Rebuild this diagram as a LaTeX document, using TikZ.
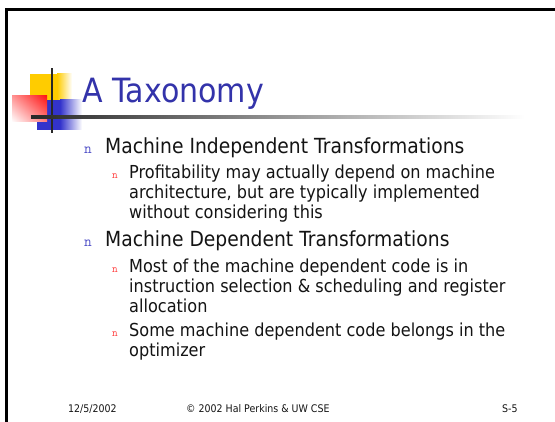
\documentclass[tikz,border=0pt]{standalone}
\usepackage{fontspec}
\usetikzlibrary{shadings}
\setmainfont[FakeStretch=0.9]{DejaVu Sans}
\definecolor{titleblue}{RGB}{51,51,170}
\definecolor{ink}{RGB}{20,20,20}
\definecolor{bulletblue}{RGB}{80,80,200}
\definecolor{bulletred}{RGB}{255,60,60}
\definecolor{logoyellow}{RGB}{255,204,0}
\definecolor{logoblue}{RGB}{51,51,204}
\definecolor{logored}{RGB}{255,20,20}
\definecolor{rule}{RGB}{40,40,40}
\begin{document}
\begin{tikzpicture}[x=1pt,y=-1pt,
  txt/.style={anchor=base west, inner sep=0pt, text=ink},
  lvlone/.style={txt, font=\fontsize{20.8}{24}\selectfont},
  lvltwo/.style={txt, font=\fontsize{17.9}{20}\selectfont},
  bulone/.style={anchor=base, inner sep=0pt, text=bulletblue, font=\ttfamily\fontsize{15}{15}\selectfont},
  bultwo/.style={anchor=base, inner sep=0pt, text=bulletred, font=\ttfamily\fontsize{11}{11}\selectfont},
  foot/.style={anchor=base west, inner sep=0pt, text=ink, font=\fontsize{10.5}{12}\selectfont}]
\useasboundingbox (0,0) rectangle (555,422);
\fill[white] (0,0) rectangle (555,422);

% slide frame
\fill[black] (5,8) rectangle (555,11);
\fill[black] (5,8) rectangle (7.5,422);

% corner logo
\fill[logoyellow] (30,74) rectangle (57,100);
\shade[left color=logoyellow, right color=white] (57,74) rectangle (72,100);
\fill[logoblue] (37,100) rectangle (60,130);
\shade[left color=logoblue, right color=white] (60,100) rectangle (82,130);
\shade[upper right=logored, upper left=logored!45!white,
       lower right=logored!55!white, lower left=white] (12,96) rectangle (47,122);
\fill[rule] (51,68) rectangle (53,133);
\shade[left color=rule, right color=white] (31,115.5) rectangle (525,118.5);

% title
\node[anchor=base west, inner sep=0pt, text=titleblue,
      font=\fontsize{33.4}{36}\selectfont] (title) at (82,103) {A Taxonomy};

% first group
\node[bulone] (b1) at (88,154) {n};
\node[lvlone] (h1) at (105,154) {Machine Independent Transformations};
\node[bultwo] (b11) at (115,179) {n};
\node[lvltwo] (t11a) at (129,179) {Profitability may actually depend on machine};
\node[lvltwo] (t11b) at (129,199) {architecture, but are typically implemented};
\node[lvltwo] (t11c) at (129,219) {without considering this};

% second group
\node[bulone] (b2) at (88,247) {n};
\node[lvlone] (h2) at (105,247) {Machine Dependent Transformations};
\node[bultwo] (b21) at (115,273) {n};
\node[lvltwo] (t21a) at (129,273) {Most of the machine dependent code is in};
\node[lvltwo] (t21b) at (129,293) {instruction selection \& scheduling and register};
\node[lvltwo] (t21c) at (129,313) {allocation};
\node[bultwo] (b22) at (115,337) {n};
\node[lvltwo] (t22a) at (129,337) {Some machine dependent code belongs in the};
\node[lvltwo] (t22b) at (129,357) {optimizer};

% footer
\node[foot] (date) at (68,413) {12/5/2002};
\node[foot] (copy) at (186,413) {© 2002 Hal Perkins \& UW CSE};
\node[foot] (page) at (502,413) {S-5};
\end{tikzpicture}
\end{document}
